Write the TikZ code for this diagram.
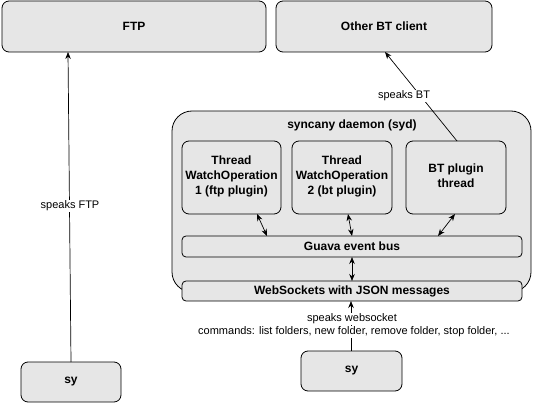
\documentclass[tikz,border=0pt]{standalone}
\usepackage{fontspec}
\setmainfont{Liberation Sans}
\usetikzlibrary{arrows.meta}
\definecolor{boxfill}{HTML}{E6E6E6}
\begin{document}
\begin{tikzpicture}[x=1pt,y=-1pt,
  box/.style={draw=black,fill=boxfill,rounded corners=7pt,line width=0.8pt},
  lbl/.style={font=\fontsize{12}{15}\selectfont\bfseries,align=center},
  small/.style={font=\fontsize{11}{13}\selectfont},
  conn/.style={line width=0.7pt,-{Stealth[length=7pt,width=5.5pt]}},
  dconn/.style={line width=0.7pt,{Stealth[length=7pt,width=5.5pt]}-{Stealth[length=7pt,width=5.5pt]}}]
\useasboundingbox (0,0) rectangle (533,406);
% outer boxes
\draw[box] (2,1) rectangle (266,52); \node[lbl] (ftp) at (134,26.5) {FTP};
\coordinate (ftpb) at (68,52);
\draw[box] (276,1) rectangle (492,52); \node[lbl] (bt) at (384,26.5) {Other BT client};
\coordinate (btb) at (385,52);
% daemon
\draw[box,rounded corners=20pt] (172,111) rectangle (531,292);
\node[lbl] (dtitle) at (352,125) {syncany daemon (syd)};
\draw[box] (182,141) rectangle (281,214);
\node[lbl] (t1) at (231.5,176) {Thread\\WatchOperation\\1 (ftp plugin)};
\draw[box] (292,141) rectangle (392,214);
\node[lbl] (t2) at (342,176) {Thread\\WatchOperation\\2 (bt plugin)};
\draw[box] (406,141) rectangle (506,214);
\node[lbl] (t3) at (456,176) {BT plugin\\thread};
\draw[box,rounded corners=4pt] (182,236) rectangle (522,257);
\node[lbl] (bus) at (352,246.5) {Guava event bus};
\draw[box,rounded corners=4pt] (182,281) rectangle (522,301);
\node[lbl] (ws) at (352,291) {WebSockets with JSON messages};
% sy boxes
\draw[box] (21,362) rectangle (121,402); \node[lbl] (sy1) at (71,382) {sy};
\draw[box] (301,351) rectangle (402,391); \node[lbl] (sy2) at (351.5,371) {sy};
% coordinates
\coordinate (sy1t) at (71,362);
\coordinate (sy2t) at (351,351);
\coordinate (wsb) at (351,301);
\coordinate (wst) at (352,281);
\coordinate (busb) at (352,257);
\coordinate (t3t) at (457,141);
\coordinate (t1b) at (257,214); \coordinate (b1) at (267,236);
\coordinate (t2b) at (348,214); \coordinate (b2) at (352,236);
\coordinate (t3b) at (455,214); \coordinate (b3) at (438,236);
% connectors
\draw[conn] (sy1t) -- (ftpb);
\node[small,fill=white,inner sep=1pt] (lftp) at (70,206) {speaks FTP};
\draw[conn] (t3t) -- (btb);
\node[small,fill=white,inner sep=1pt] (lbt) at (404,96) {speaks BT};
\draw[conn] (sy2t) -- (wsb);
\node[small,fill=white,inner sep=1pt] (lws1) at (352,319) {speaks websocket};
\node[small,fill=white,inner sep=1pt] (lws2) at (354,332) {commands: list folders, new folder, remove folder, stop folder, ...};
\draw[dconn] (t1b) -- (b1);
\draw[dconn] (t2b) -- (b2);
\draw[dconn] (t3b) -- (b3);
\draw[dconn] (busb) -- (wst);
\end{tikzpicture}
\end{document}
